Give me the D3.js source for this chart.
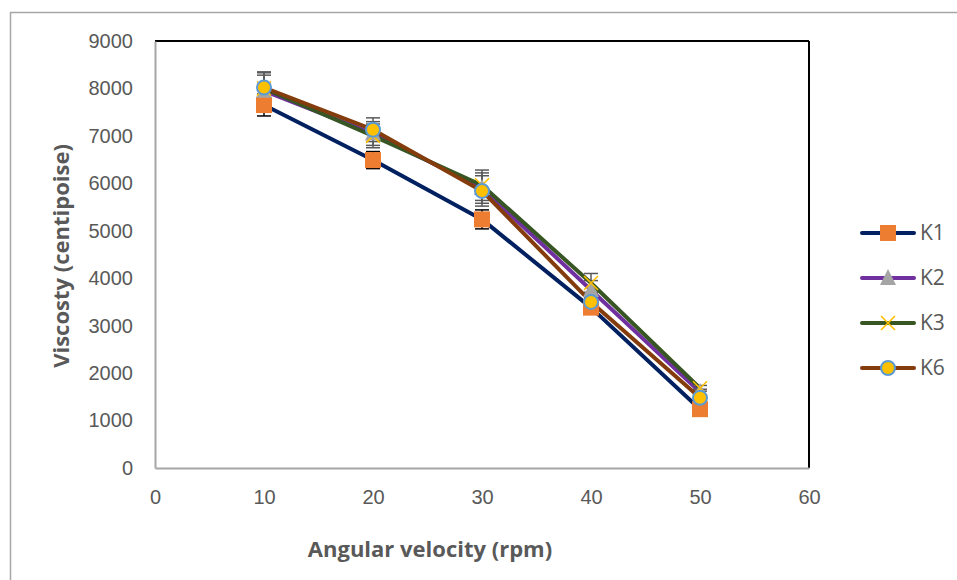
<!DOCTYPE html>
<meta charset="utf-8">
<style>
body { margin: 0; background: #fff; }
svg { font-family: "Open Sans", "Liberation Sans", sans-serif; }
.tick text { fill: #595959; font-size: 20px; }
.axis-title { fill: #595959; font-size: 22px; font-weight: bold; }
.legend text { fill: #595959; font-size: 21px; }
</style>
<body>
<div id="chart"></div>
<script src="https://cdn.jsdelivr.net/npm/d3@7"></script>
<script>

var speeds = [10, 20, 30, 40, 50];
var seriesNames = ["K1", "K2", "K3", "K6"];
var k1 = [7650, 6490, 5240, 3380, 1240];
var k2 = [7950, 7050, 5900, 3750, 1600];
var k3 = [8000, 7000, 5960, 3900, 1680];
var k6 = [8020, 7130, 5840, 3500, 1480];
var k1Err = [230, 180, 200, 0, 0];
var otherErr = [330, 250, 320, 200, 60];
var xTicks = [0, 10, 20, 30, 40, 50, 60];
var yTicks = [0, 1000, 2000, 3000, 4000, 5000, 6000, 7000, 8000, 9000];

var series = [
  {name: seriesNames[0], values: k1, err: k1Err, line: "#002060", marker: "square", errColor: "#000"},
  {name: seriesNames[1], values: k2, err: otherErr, line: "#7030A0", marker: "triangle", errColor: "#595959"},
  {name: seriesNames[2], values: k3, err: otherErr, line: "#375623", marker: "cross", errColor: "#595959"},
  {name: seriesNames[3], values: k6, err: otherErr, line: "#843C0C", marker: "circle", errColor: "#595959"}
];

var width = 957, height = 580;
var plotL = 155, plotT = 41, plotR = 809, plotB = 468;

var svg = d3.select("#chart").append("svg")
    .attr("width", width)
    .attr("height", height);

// outer chart border (cropped on right/bottom)
svg.append("rect")
    .attr("x", 10.5).attr("y", 12.5)
    .attr("width", 1000).attr("height", 700)
    .attr("fill", "none")
    .attr("stroke", "#a6a6a6")
    .attr("stroke-width", 1.5);

var x = d3.scaleLinear().domain([0, 60]).range([plotL, plotR]);
var y = d3.scaleLinear().domain([0, 9000]).range([plotB, plotT]);

// plot frame: top/right black, left/bottom grey
svg.append("line").attr("x1", plotL).attr("x2", plotR).attr("y1", plotT).attr("y2", plotT)
    .attr("stroke", "#000").attr("stroke-width", 2);
svg.append("line").attr("x1", plotR).attr("x2", plotR).attr("y1", plotT).attr("y2", plotB)
    .attr("stroke", "#000").attr("stroke-width", 2);

var xAxis = svg.append("g")
    .attr("transform", "translate(0," + plotB + ")")
    .call(d3.axisBottom(x).tickValues(xTicks).tickSize(0).tickPadding(22));
xAxis.select(".domain").attr("stroke", "#a6a6a6").attr("stroke-width", 2);

var yAxis = svg.append("g")
    .attr("transform", "translate(" + plotL + ",0)")
    .call(d3.axisLeft(y).tickValues(yTicks).tickSize(0).tickPadding(22).tickFormat(d3.format("d")));
yAxis.select(".domain").attr("stroke", "#a6a6a6").attr("stroke-width", 2);

svg.append("text")
    .attr("class", "axis-title")
    .attr("x", 430).attr("y", 557)
    .attr("text-anchor", "middle")
    .text("Angular velocity (rpm)");

svg.append("text")
    .attr("class", "axis-title")
    .attr("transform", "translate(69,256) rotate(-90)")
    .attr("text-anchor", "middle")
    .text("Viscosty (centipoise)");

var line = d3.line()
    .x(function(d, i) { return x(speeds[i]); })
    .y(function(d) { return y(d); });

function drawMarker(g, type, cx, cy) {
  if (type === "square") {
    g.append("rect").attr("x", cx - 8).attr("y", cy - 8).attr("width", 16).attr("height", 16)
        .attr("fill", "#ED7D31");
  } else if (type === "triangle") {
    g.append("path").attr("d", "M" + cx + "," + (cy - 9) + "L" + (cx + 8) + "," + (cy + 7) + "L" + (cx - 8) + "," + (cy + 7) + "Z")
        .attr("fill", "#A5A5A5");
  } else if (type === "cross") {
    g.append("path").attr("d", "M" + (cx - 7) + "," + (cy - 7) + "L" + (cx + 7) + "," + (cy + 7) + "M" + (cx + 7) + "," + (cy - 7) + "L" + (cx - 7) + "," + (cy + 7))
        .attr("stroke", "#FFC000").attr("stroke-width", 1.6).attr("fill", "none");
  } else {
    g.append("circle").attr("cx", cx).attr("cy", cy).attr("r", 7)
        .attr("fill", "#FFC000").attr("stroke", "#5B9BD5").attr("stroke-width", 2);
  }
}

series.forEach(function(s) {
  var g = svg.append("g");
  g.append("path")
      .datum(s.values)
      .attr("d", line)
      .attr("fill", "none")
      .attr("stroke", s.line)
      .attr("stroke-width", 4)
      .attr("stroke-linejoin", "round")
      .attr("stroke-linecap", "round");

  s.values.forEach(function(v, i) {
    var e = s.err[i];
    if (!e) return;
    var cx = x(speeds[i]);
    var eb = g.append("g").attr("stroke", s.errColor).attr("stroke-width", 1.5);
    eb.append("line").attr("x1", cx).attr("x2", cx).attr("y1", y(v - e)).attr("y2", y(v + e));
    eb.append("line").attr("x1", cx - 7).attr("x2", cx + 7).attr("y1", y(v - e)).attr("y2", y(v - e));
    eb.append("line").attr("x1", cx - 7).attr("x2", cx + 7).attr("y1", y(v + e)).attr("y2", y(v + e));
  });
});

series.forEach(function(s) {
  var g = svg.append("g");
  s.values.forEach(function(v, i) {
    drawMarker(g, s.marker, x(speeds[i]), y(v));
  });
});

// legend
var legend = svg.append("g").attr("class", "legend");
series.forEach(function(s, i) {
  var ly = 233 + i * 45;
  var lg = legend.append("g");
  lg.append("line").attr("x1", 862).attr("x2", 914).attr("y1", ly).attr("y2", ly)
      .attr("stroke", s.line).attr("stroke-width", 4).attr("stroke-linecap", "round");
  drawMarker(lg, s.marker, 888, ly);
  lg.append("text").attr("x", 920).attr("y", ly + 7).text(s.name);
});

</script>
</body>
</html>
